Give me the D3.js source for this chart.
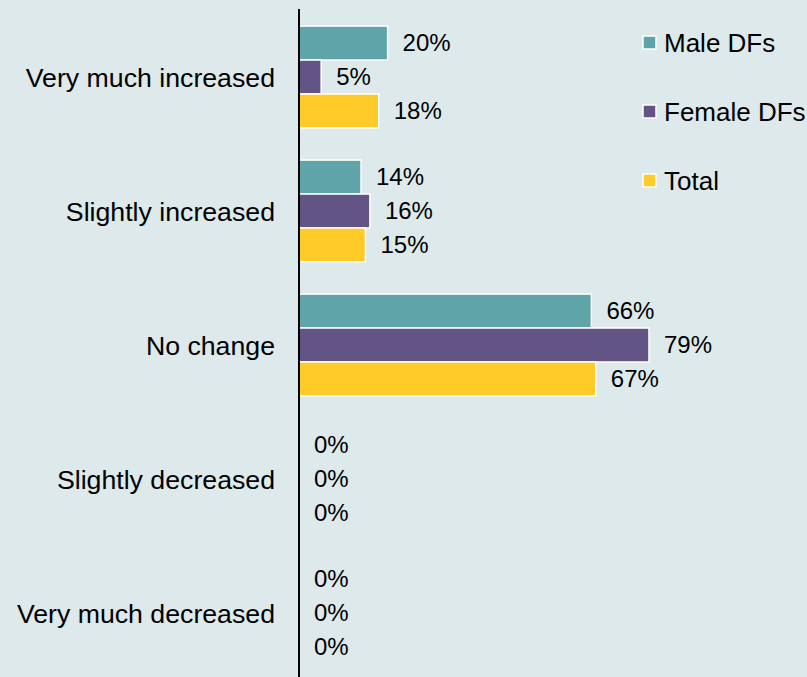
<!DOCTYPE html>
<html>
<head>
<meta charset="utf-8">
<script src="https://cdn.jsdelivr.net/npm/d3@7"></script>
<style>
  html, body { margin: 0; padding: 0; background: #dde9ea; }
  svg { display: block; font-family: "Liberation Sans", Arial, Helvetica, sans-serif; }
</style>
</head>
<body>
<svg id="chart" width="807" height="677"></svg>
<script>
// Change reported by survey respondents
const categories = ["Very much increased", "Slightly increased", "No change", "Slightly decreased", "Very much decreased"];
const seriesNames = ["Male DFs", "Female DFs", "Total"];
const maleValues = [20, 14, 66, 0, 0];
const femaleValues = [5, 16, 79, 0, 0];
const totalValues = [18, 15, 67, 0, 0];
const seriesColors = ["#5fa4a8", "#635486", "#ffcb29"];

const seriesValues = [maleValues, femaleValues, totalValues];
const rows = categories.map((c, i) => ({
  category: c,
  values: seriesNames.map((s, j) => ({ series: s, value: seriesValues[j][i], color: seriesColors[j] }))
}));

const svg = d3.select("#chart");
const axisX = 299;

const x = d3.scaleLinear().domain([0, 100]).range([axisX, axisX + 443]);
const y0 = d3.scaleBand().domain(categories).range([10, 680]).paddingInner(0.24).paddingOuter(0.12);
const y1 = d3.scaleBand().domain(seriesNames).range([0, y0.bandwidth()]);

const groups = svg.selectAll("g.group").data(rows).join("g")
  .attr("class", "group")
  .attr("transform", d => `translate(0,${y0(d.category)})`);

groups.selectAll("rect").data(d => d.values).join("rect")
  .attr("x", x(0))
  .attr("y", d => y1(d.series))
  .attr("width", d => Math.max(0, x(d.value) - x(0)))
  .attr("height", y1.bandwidth())
  .attr("fill", d => d.color)
  .attr("stroke", d => d.value > 0 ? "#ffffff" : "none")
  .attr("stroke-width", 1.5);

groups.selectAll("text.value").data(d => d.values).join("text")
  .attr("class", "value")
  .attr("x", d => x(d.value) + 15)
  .attr("y", d => y1(d.series) + y1.bandwidth() / 2)
  .attr("dy", "0.35em")
  .attr("font-size", 24)
  .attr("fill", "#000")
  .text(d => d.value + "%");

// Category labels on the left
svg.append("g").selectAll("text").data(categories).join("text")
  .attr("x", 275)
  .attr("y", d => y0(d) + y0.bandwidth() / 2 + 1)
  .attr("dy", "0.35em")
  .attr("text-anchor", "end")
  .attr("font-size", 26.7)
  .attr("fill", "#000")
  .text(d => d);

// Vertical axis line
svg.append("line")
  .attr("x1", axisX).attr("x2", axisX)
  .attr("y1", 9).attr("y2", 677)
  .attr("stroke", "#000").attr("stroke-width", 2);

// Legend
const legend = svg.append("g").selectAll("g").data(seriesNames).join("g")
  .attr("transform", (d, i) => `translate(643,${43 + i * 69})`);
legend.append("rect")
  .attr("x", 0).attr("y", -7).attr("width", 13).attr("height", 13)
  .attr("fill", (d, i) => seriesColors[i])
  .attr("stroke", "#fff").attr("stroke-width", 1.5);
legend.append("text")
  .attr("x", 21).attr("y", 0).attr("dy", "0.35em")
  .attr("font-size", 26).attr("fill", "#000")
  .text(d => d);
</script>
</body>
</html>
